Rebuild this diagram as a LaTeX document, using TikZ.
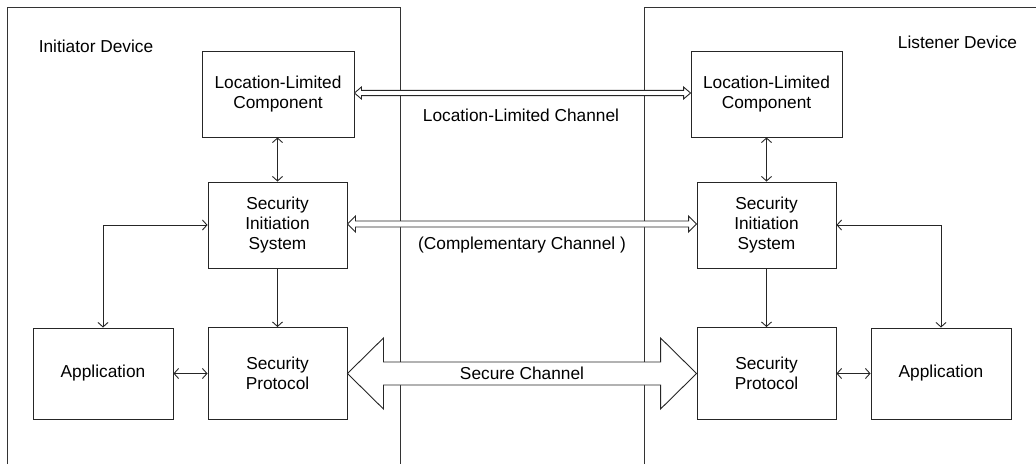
\documentclass[tikz,border=0pt]{standalone}
\usepackage{fontspec}
\setmainfont{Liberation Sans}
\usetikzlibrary{arrows.meta,calc}

\tikzset{
  box/.style={draw=black!85, line width=0.9pt, fill=white, inner sep=0pt,
              align=center, font=\fontsize{17.3}{20}\selectfont},
  frame/.style={draw=black!80, line width=0.9pt},
  conn/.style={draw=black!85, line width=0.9pt,
               arrows={Straight Barb[length=4.5pt,width=10pt]-Straight Barb[length=4.5pt,width=10pt]}},
  chan/.style={draw=black!85, line width=0.9pt, fill=white, line join=miter},
  lbl/.style={inner sep=0pt, font=\fontsize{17.3}{20}\selectfont},
}

% double-headed hollow channel arrow between two anchors:
% #1 left anchor, #2 right anchor, #3 shaft half-height, #4 head half-height, #5 head length
\newcommand{\chanarrow}[5]{%
  \path[chan] (#1)
    -- ($(#1)+(#5,-#4)$) -- ($(#1)+(#5,-#3)$)
    -- ($(#2)+(-#5,-#3)$) -- ($(#2)+(-#5,-#4)$)
    -- (#2)
    -- ($(#2)+(-#5,#4)$) -- ($(#2)+(-#5,#3)$)
    -- ($(#1)+(#5,#3)$) -- ($(#1)+(#5,#4)$)
    -- cycle;}

\begin{document}
\begin{tikzpicture}[x=1pt,y=-1pt]
\useasboundingbox (0,0) rectangle (1036,464);

% device frames (open at the bottom)
\draw[frame] (7,464) -- (7,7) -- (400,7) -- (400,464);
\draw[frame] (644,464) -- (644,7) -- (1036,7);

\node[lbl] (initdev) at (96,46) {Initiator Device};
\node[lbl] (listdev) at (957.5,42) {Listener Device};

% initiator side
\node[box, minimum width=152pt, minimum height=86pt] (llcL) at (278,94) {Location-Limited\\Component};
\node[box, minimum width=139pt, minimum height=86pt] (sisL) at (277.5,225) {Security\\Initiation\\System};
\node[box, minimum width=139pt, minimum height=92pt] (spL) at (277.5,373.5) {Security\\Protocol};
\node[box, minimum width=140pt, minimum height=91pt] (appL) at (103,373.5) {Application};

% listener side
\node[box, minimum width=151pt, minimum height=86pt] (llcR) at (766.5,94) {Location-Limited\\Component};
\node[box, minimum width=139pt, minimum height=86pt] (sisR) at (766.5,225) {Security\\Initiation\\System};
\node[box, minimum width=139pt, minimum height=92pt] (spR) at (766.5,373.5) {Security\\Protocol};
\node[box, minimum width=140pt, minimum height=91pt] (appR) at (941,373.5) {Application};

% internal connectors
\draw[conn] (llcL.south -| sisL.north) -- (sisL.north);
\draw[conn, arrows={-Straight Barb[length=4.5pt,width=10pt]}] (sisL.south) -- (spL.north);
\draw[conn] (sisL.west) -| (appL.north);
\draw[conn] (appL.east) -- (spL.west);

\draw[conn] (llcR.south -| sisR.north) -- (sisR.north);
\draw[conn, arrows={-Straight Barb[length=4.5pt,width=10pt]}] (sisR.south) -- (spR.north);
\draw[conn] (sisR.east) -| (appR.north);
\draw[conn] (spR.east) -- (appR.west);

% channels between the devices
\coordinate (llcA) at ($(llcL.east)+(0,-1)$);
\coordinate (llcB) at ($(llcR.west)+(0,-1)$);
\chanarrow{llcA}{llcB}{2.6}{6}{7}
\node[lbl] (llcchan) at (521,115) {Location-Limited Channel};

\coordinate (cmpA) at ($(sisL.east)+(0,-1)$);
\coordinate (cmpB) at ($(sisR.west)+(0,-1)$);
\chanarrow{cmpA}{cmpB}{3}{8}{8}
\node[lbl] (cmpchan) at (522,245) {(Complementary Channel )};

\chanarrow{spL.west -| spL.east}{spR.west}{11.5}{35.5}{36}
\node[lbl] (secchan) at (522,373.5) {Secure Channel};
\end{tikzpicture}
\end{document}
